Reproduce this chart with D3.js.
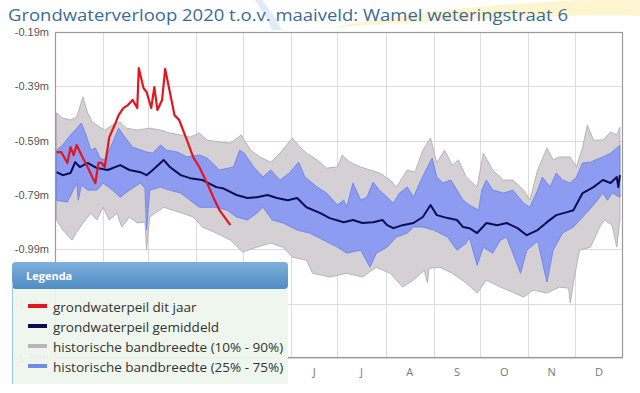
<!DOCTYPE html>
<html>
<head>
<meta charset="utf-8">
<script src="https://cdn.jsdelivr.net/npm/d3@7"></script>
<style>
  body { margin: 0; background: #fff; }
  svg { display: block; }
</style>
</head>
<body>
<div id="canvas"></div>
<script>
// Constants
const w = 640;
const h = 393;
const plot = { left: 55, right: 623, top: 32, bottom: 358 };
const legendBox = { x: 12, y: 262, w: 276, h: 122 };
const year0 = new Date(2020, 0, 1);

const titleText = "Grondwaterverloop 2020 t.o.v. maaiveld: Wamel weteringstraat 6";
const yTicks = [-0.19, -0.39, -0.59, -0.79, -0.99, -1.19, -1.39];
const monthLabels = ["J", "F", "M", "A", "M", "J", "J", "A", "S", "O", "N", "D"];

// Data: day of year (0 = 1 jan) and level in m t.o.v. maaiveld
const redDays = [1, 4, 8, 10, 12, 14, 17, 21, 24, 26, 28, 30, 32, 35, 39, 41, 44, 47, 50, 53, 54, 57, 59, 62, 64, 66, 69, 71, 74, 77, 80, 85, 89, 93, 98, 102, 106, 113];
const redVals = [-0.632, -0.632, -0.672, -0.614, -0.643, -0.606, -0.643, -0.687, -0.724, -0.746, -0.672, -0.672, -0.687, -0.577, -0.525, -0.496, -0.470, -0.459, -0.440, -0.470, -0.323, -0.396, -0.411, -0.470, -0.393, -0.477, -0.440, -0.326, -0.411, -0.496, -0.514, -0.588, -0.650, -0.687, -0.746, -0.798, -0.846, -0.901];

const meanDays = [1, 5, 10, 13, 16, 21, 27, 34, 42, 48, 55, 59, 63, 70, 74, 81, 87, 95, 104, 108, 117, 124, 130, 137, 143, 150, 156, 162, 171, 177, 186, 192, 198, 205, 211, 214, 218, 224, 231, 237, 242, 246, 253, 259, 263, 267, 272, 278, 285, 291, 298, 304, 311, 317, 323, 330, 334, 340, 347, 353, 358, 362, 363, 364];
const meanVals = [-0.706, -0.717, -0.709, -0.669, -0.687, -0.672, -0.691, -0.698, -0.680, -0.698, -0.706, -0.717, -0.698, -0.661, -0.687, -0.717, -0.728, -0.735, -0.761, -0.765, -0.790, -0.801, -0.798, -0.790, -0.801, -0.809, -0.801, -0.835, -0.857, -0.875, -0.890, -0.882, -0.893, -0.890, -0.882, -0.901, -0.912, -0.901, -0.893, -0.871, -0.827, -0.864, -0.875, -0.882, -0.908, -0.912, -0.930, -0.893, -0.901, -0.893, -0.912, -0.938, -0.919, -0.890, -0.864, -0.853, -0.846, -0.783, -0.761, -0.735, -0.746, -0.724, -0.761, -0.717];

const p90Days = [1, 5, 10, 14, 18, 21, 24, 29, 32, 37, 42, 46, 53, 61, 68, 74, 81, 87, 93, 98, 106, 113, 120, 126, 132, 139, 145, 153, 158, 162, 169, 175, 182, 185, 190, 197, 203, 209, 216, 220, 227, 232, 237, 242, 246, 251, 256, 260, 265, 272, 276, 282, 289, 295, 302, 306, 311, 317, 321, 325, 332, 336, 340, 343, 347, 353, 358, 362, 364];
const p90Vals = [-0.488, -0.507, -0.514, -0.503, -0.429, -0.488, -0.521, -0.540, -0.551, -0.533, -0.521, -0.544, -0.551, -0.544, -0.551, -0.562, -0.569, -0.577, -0.562, -0.588, -0.595, -0.599, -0.569, -0.625, -0.650, -0.669, -0.636, -0.580, -0.614, -0.636, -0.661, -0.691, -0.687, -0.643, -0.669, -0.687, -0.698, -0.709, -0.735, -0.761, -0.698, -0.706, -0.625, -0.580, -0.672, -0.625, -0.680, -0.661, -0.724, -0.761, -0.636, -0.698, -0.735, -0.735, -0.772, -0.809, -0.698, -0.617, -0.661, -0.650, -0.650, -0.687, -0.614, -0.533, -0.588, -0.588, -0.558, -0.569, -0.540];

const p10Days = [1, 5, 11, 14, 18, 23, 27, 31, 35, 40, 43, 48, 53, 58, 59, 61, 70, 76, 82, 89, 95, 104, 113, 121, 130, 139, 147, 153, 162, 166, 177, 188, 198, 207, 216, 224, 231, 238, 240, 241, 248, 256, 265, 272, 278, 287, 295, 302, 308, 317, 325, 331, 332, 334, 338, 345, 351, 354, 359, 362, 364];
const p10Vals = [-0.882, -0.919, -0.956, -0.927, -0.893, -0.857, -0.882, -0.835, -0.882, -0.857, -0.908, -0.871, -0.893, -0.890, -0.993, -0.871, -0.835, -0.846, -0.857, -0.871, -0.908, -0.930, -0.956, -1.000, -0.982, -0.967, -0.982, -1.019, -1.030, -1.078, -1.092, -1.078, -1.092, -1.056, -1.078, -1.129, -1.103, -1.067, -1.114, -1.060, -1.056, -1.078, -1.114, -1.151, -1.103, -1.129, -1.148, -1.166, -1.140, -1.151, -1.129, -1.133, -1.188, -1.114, -0.993, -0.982, -0.908, -0.882, -0.901, -0.982, -0.882];

const p75Days = [1, 5, 10, 13, 17, 20, 23, 26, 29, 32, 37, 41, 44, 50, 59, 63, 68, 72, 79, 85, 93, 98, 106, 115, 119, 122, 128, 134, 139, 145, 151, 157, 161, 169, 175, 182, 186, 188, 192, 197, 201, 205, 209, 214, 218, 222, 227, 231, 235, 240, 243, 246, 250, 255, 259, 263, 267, 273, 275, 278, 282, 289, 295, 302, 306, 311, 314, 319, 323, 327, 332, 336, 340, 345, 353, 358, 362, 364];
const p75Vals = [-0.625, -0.606, -0.569, -0.551, -0.525, -0.569, -0.625, -0.617, -0.654, -0.661, -0.599, -0.544, -0.569, -0.614, -0.632, -0.636, -0.606, -0.625, -0.632, -0.650, -0.643, -0.654, -0.698, -0.687, -0.625, -0.636, -0.687, -0.724, -0.698, -0.735, -0.709, -0.669, -0.724, -0.761, -0.783, -0.827, -0.809, -0.835, -0.746, -0.809, -0.798, -0.743, -0.772, -0.798, -0.820, -0.783, -0.761, -0.798, -0.746, -0.687, -0.654, -0.724, -0.746, -0.735, -0.772, -0.809, -0.827, -0.846, -0.772, -0.735, -0.772, -0.783, -0.772, -0.820, -0.835, -0.772, -0.724, -0.761, -0.709, -0.735, -0.746, -0.724, -0.672, -0.669, -0.650, -0.636, -0.617, -0.606];

const p25Days = [1, 8, 14, 15, 17, 21, 27, 31, 37, 42, 48, 55, 58, 59, 61, 68, 74, 81, 87, 93, 104, 111, 117, 124, 130, 134, 140, 147, 156, 164, 173, 182, 188, 197, 203, 207, 214, 220, 227, 231, 237, 244, 253, 259, 265, 267, 272, 276, 282, 287, 291, 295, 300, 304, 311, 317, 321, 327, 334, 340, 347, 353, 356, 359, 364];
const p25Vals = [-0.809, -0.816, -0.746, -0.809, -0.753, -0.772, -0.772, -0.746, -0.772, -0.798, -0.772, -0.746, -0.765, -0.919, -0.772, -0.761, -0.772, -0.783, -0.809, -0.835, -0.835, -0.846, -0.871, -0.882, -0.857, -0.835, -0.882, -0.893, -0.919, -0.930, -0.956, -0.982, -1.004, -0.993, -1.056, -1.004, -0.982, -0.945, -0.930, -0.908, -0.908, -0.919, -0.945, -0.993, -0.967, -0.945, -1.049, -0.982, -1.004, -0.956, -0.945, -1.004, -1.078, -0.993, -0.960, -1.110, -0.993, -0.930, -0.908, -0.871, -0.827, -0.783, -0.809, -0.783, -0.798];

const legendItems = [
  { label: "grondwaterpeil dit jaar", color: "#e3161f" },
  { label: "grondwaterpeil gemiddeld", color: "#0c0c55" },
  { label: "historische bandbreedte (10% - 90%)", color: "#b9b4ba" },
  { label: "historische bandbreedte (25% - 75%)", color: "#6f8ae8" }
];

// Scales
const dayDate = d => d3.timeDay.offset(year0, d);
const xScale = d3.scaleTime().domain([year0, new Date(2021, 0, 1)]).range([plot.left, plot.right]);
const yScale = d3.scaleLinear().domain([-1.39, -0.19]).range([plot.bottom, plot.top]);

const zip = (days, vals) => days.map((d, i) => [dayDate(d), vals[i]]);
const line = d3.line().x(d => xScale(d[0])).y(d => yScale(d[1]));
// band polygon: upper edge forward, lower edge backward
const bandPath = (up, low) => line(up.concat(low.slice().reverse())) + "Z";

// SVG setup
const svg = d3.select("#canvas").append("svg")
  .attr("width", w)
  .attr("height", h)
  .style("font-family", "'Open Sans', 'Liberation Sans', sans-serif");

// faint watermark swooshes behind everything
svg.append("path")
  .attr("d", "M330,28 C430,8 560,-2 640,0 L640,16 C560,14 450,20 330,28Z")
  .attr("fill", "#fdf1c4").attr("opacity", 0.8);
svg.append("path")
  .attr("d", "M255,0 C262,10 268,20 272,30 L282,30 C276,18 268,8 262,0Z")
  .attr("fill", "#d8e6f6").attr("opacity", 0.8);

// Title
svg.append("text")
  .attr("x", 8)
  .attr("y", 21)
  .attr("fill", "#3a6b96")
  .style("font-size", "17px")
  .attr("textLength", 560)
  .attr("lengthAdjust", "spacingAndGlyphs")
  .text(titleText);

// plot background
svg.append("rect")
  .attr("x", plot.left).attr("y", plot.top)
  .attr("width", plot.right - plot.left).attr("height", plot.bottom - plot.top)
  .attr("fill", "#fff");

// Grid
const grid = svg.append("g").attr("stroke", "#dcdcdc").attr("stroke-width", 1);
grid.selectAll("line.h").data(yTicks).join("line")
  .attr("x1", plot.left).attr("x2", plot.right)
  .attr("y1", d => Math.round(yScale(d)) + 0.5).attr("y2", d => Math.round(yScale(d)) + 0.5);
const monthStarts = d3.timeMonth.range(year0, new Date(2021, 0, 1));
grid.selectAll("line.v").data(monthStarts.slice(1)).join("line")
  .attr("y1", plot.top).attr("y2", plot.bottom)
  .attr("x1", d => Math.round(xScale(d)) + 0.5).attr("x2", d => Math.round(xScale(d)) + 0.5);

// Y axis labels
const yAxis = d3.axisLeft(yScale).tickValues(yTicks).tickSize(0).tickPadding(6)
  .tickFormat(d => d.toFixed(2) + "m");
const yg = svg.append("g").attr("transform", `translate(${plot.left},0)`).call(yAxis);
yg.select(".domain").remove();
yg.selectAll(".tick text")
  .attr("fill", "#555")
  .style("font-family", "'Liberation Sans Narrow', 'Liberation Sans', sans-serif")
  .style("font-size", "11px");

// Bands
const p90 = zip(p90Days, p90Vals), p10 = zip(p10Days, p10Vals);
const p75 = zip(p75Days, p75Vals), p25 = zip(p25Days, p25Vals);
svg.append("path")
  .attr("d", bandPath(p90, p10))
  .attr("fill", "#d5d0d4")
  .attr("stroke", "#b9b3b8")
  .attr("stroke-width", 1);
svg.append("path")
  .attr("d", bandPath(p75, p25))
  .attr("fill", "#8d9cf0")
  .attr("stroke", "#6f8ae8")
  .attr("stroke-width", 1);

// Lines
svg.append("path")
  .attr("d", line(zip(meanDays, meanVals)))
  .attr("fill", "none")
  .attr("stroke", "#0c0c55")
  .attr("stroke-width", 2)
  .attr("stroke-linejoin", "round");
svg.append("path")
  .attr("d", line(zip(redDays, redVals)))
  .attr("fill", "none")
  .attr("stroke", "#e3161f")
  .attr("stroke-width", 2.2)
  .attr("stroke-linejoin", "round");

// frame
svg.append("rect")
  .attr("x", plot.left + 0.5).attr("y", plot.top + 0.5)
  .attr("width", plot.right - plot.left - 1).attr("height", plot.bottom - plot.top - 1)
  .attr("fill", "none").attr("stroke", "#9a9a9a").attr("stroke-width", 1.2);

// Month labels (the ones under the legend box are hidden by it)
const monthMid = d => (xScale(d) + xScale(d3.timeMonth.offset(d, 1))) / 2;
svg.append("g").selectAll("text")
  .data(monthStarts.map((d, i) => ({ x: monthMid(d), label: monthLabels[i] }))
    .filter(m => m.x > legendBox.x + legendBox.w + 6))
  .join("text")
  .attr("x", d => d.x)
  .attr("y", 376)
  .attr("text-anchor", "middle")
  .attr("fill", "#777")
  .style("font-size", "11px")
  .text(d => d.label);

// Legend
const lg = svg.append("g").attr("transform", `translate(${legendBox.x},${legendBox.y})`);
const defs = svg.append("defs");
const grad = defs.append("linearGradient").attr("id", "lgHead").attr("x1", 0).attr("y1", 0).attr("x2", 0).attr("y2", 1);
grad.append("stop").attr("offset", "0%").attr("stop-color", "#7fb0dc");
grad.append("stop").attr("offset", "100%").attr("stop-color", "#4f8cc4");
lg.append("rect")
  .attr("x", 0).attr("y", 0).attr("width", legendBox.w).attr("height", legendBox.h)
  .attr("fill", "#eef6ec").attr("opacity", 0.95);
lg.append("rect")
  .attr("x", 0).attr("y", 0).attr("width", legendBox.w).attr("height", 27).attr("rx", 4)
  .attr("fill", "url(#lgHead)");
lg.append("line")
  .attr("x1", 0.5).attr("x2", 0.5).attr("y1", 20).attr("y2", legendBox.h)
  .attr("stroke", "#9ec3e3");
lg.append("text")
  .attr("x", 14).attr("y", 18)
  .attr("fill", "#fff")
  .style("font-size", "11px")
  .style("font-weight", "bold")
  .text("Legenda");
const li = lg.selectAll("g.item").data(legendItems).join("g")
  .attr("transform", (d, i) => `translate(16,${45 + i * 20})`);
li.append("rect")
  .attr("x", 0).attr("y", -3).attr("width", 19).attr("height", 4)
  .attr("fill", d => d.color);
li.append("text")
  .attr("x", 25).attr("y", 4.5)
  .attr("fill", "#333")
  .style("font-size", "13.5px")
  .text(d => d.label);
</script>
</body>
</html>
